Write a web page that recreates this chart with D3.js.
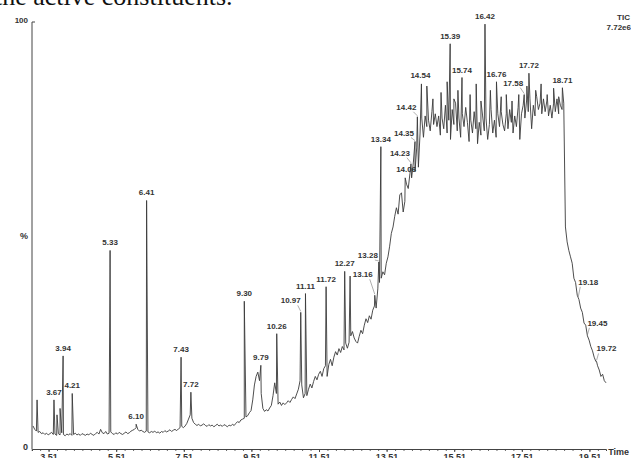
<!DOCTYPE html>
<html><head><meta charset="utf-8">
<script src="https://cdn.jsdelivr.net/npm/d3@7"></script>
<style>
html,body{margin:0;padding:0;background:#fff;overflow:hidden}
svg{display:block}
</style></head><body>
<svg id="chart" width="631" height="458"></svg>
<script>
// Total ion chromatogram (TIC), relative abundance in % against retention time (min)
const ticStart = 3.05;
const ticStep = 0.05;
const ticValues = [
  // 3.05 - 4.50
  5.4, 4.6, 4.2, 3.9, 4.1, 3.6, 3.8, 3.4, 3.7, 3.3,
  3.6, 3.9, 3.4, 3.5, 3.2, 3.6, 3.3, 3.8, 3.4, 3.1,
  3.5, 3.3, 3.6, 3.2, 3.4, 3.7, 3.3, 3.5, 3.2, 3.6,
  // 4.55 - 6.00
  3.4, 3.2, 3.5, 3.3, 3.7, 3.4, 3.2, 3.6, 3.9, 3.5,
  4.6, 3.8, 3.6, 4.1, 3.5, 3.7, 4.0, 3.6, 3.4, 3.8,
  3.5, 3.9, 3.6, 3.4, 3.7, 4.0, 3.6, 3.8, 4.2, 4.4,
  // 6.05 - 7.50
  4.6, 5.0, 4.6, 4.2, 4.4, 4.1, 3.9, 4.2, 4.0, 3.8,
  4.1, 3.9, 4.2, 3.8, 4.0, 3.7, 4.1, 3.9, 4.3, 4.0,
  4.2, 4.5, 4.1, 4.4, 4.6, 4.3, 4.7, 5.0, 5.3, 5.0,
  // 7.55 - 9.00
  5.4, 6.0, 7.0, 8.0, 7.2, 6.2, 5.8, 5.5, 5.8, 5.4,
  5.6, 5.9, 5.5, 5.3, 5.7, 5.4, 5.6, 5.2, 5.5, 5.8,
  5.4, 5.6, 5.3, 5.7, 5.5, 5.2, 5.6, 5.4, 5.8, 5.5,
  // 9.05 - 10.50
  6.0, 6.4, 6.2, 6.8, 7.0, 7.2, 7.5, 7.8, 8.5, 9.0,
  11.5, 15.0, 17.0, 18.0, 16.0, 13.0, 9.5, 8.8, 9.2, 8.9,
  9.6, 10.2, 12.5, 15.5, 13.0, 10.5, 11.0, 10.2, 10.8, 10.4,
  // 10.55 - 12.00
  10.8, 11.3, 10.9, 11.6, 12.2, 11.8, 12.9, 14.0, 16.0, 15.0,
  12.0, 13.0, 12.5, 14.0, 15.2, 14.3, 15.8, 17.0, 16.2, 17.5,
  18.2, 17.0, 18.8, 19.5, 17.0, 19.8, 21.0, 19.5, 21.5, 22.8,
  // 12.05 - 13.50
  22.0, 23.5, 22.6, 24.0, 23.2, 24.8, 23.6, 25.0, 26.5, 27.5,
  26.0, 25.2, 24.8, 26.4, 27.8, 27.0, 29.0, 30.5, 29.6, 31.2,
  30.4, 32.5, 33.5, 33.0, 37.5, 39.0, 40.0, 41.5, 40.8, 43.5,
  // 13.55 - 15.00
  45.0, 47.5, 50.5, 52.0, 54.5, 56.5, 55.0, 59.5, 60.0, 55.5,
  58.0, 62.0, 61.0, 64.5, 63.5, 67.0, 65.0, 70.5, 66.0, 74.0,
  77.5, 73.0, 78.0, 75.5, 77.0, 74.5, 79.0, 76.0, 78.5, 75.5,
  // 15.05 - 16.80
  78.0, 73.5, 77.5, 75.0, 80.5, 74.0, 77.0, 72.5, 79.5, 76.0,
  81.0, 74.5, 77.5, 73.0, 78.5, 75.5, 80.0, 76.5, 72.0, 77.0,
  74.0, 79.0, 75.0, 71.5, 76.5, 73.5, 78.0, 74.5, 77.5, 72.5,
  76.0, 79.5, 74.0, 77.0, 73.0, 78.5,
  // 16.85 - 18.75
  75.5, 79.0, 76.0, 74.5, 78.5, 75.0, 79.5, 76.5, 74.0, 78.0,
  75.5, 80.0, 72.5, 78.5, 80.5, 77.5, 81.5, 79.0, 82.0, 75.0,
  80.5, 78.0, 82.5, 79.5, 81.0, 78.5, 82.0, 79.0, 81.5, 78.0,
  80.5, 77.5, 81.0, 79.0, 82.0, 78.5, 80.5, 79.5, 81.0,
  // 18.80 - 20.00
  52.0, 48.5, 46.5, 45.0, 43.5, 40.0, 39.0, 36.0, 35.0, 33.0,
  32.0, 29.5, 29.0, 26.5, 25.5, 24.0, 23.0, 21.5, 20.5, 19.5,
  18.5, 17.0, 17.5, 16.0, 15.5
];

// Labelled peaks: retention time and apex height (%)
const peakTimes = [3.67, 3.94, 4.21, 5.33, 6.10, 6.41, 7.43, 7.72, 9.30, 9.79,
  10.26, 10.97, 11.11, 11.72, 12.27, 13.16, 13.28, 13.34, 14.06, 14.23,
  14.35, 14.42, 14.54, 15.39, 15.74, 16.42, 16.76, 17.58, 17.72, 18.71,
  19.18, 19.45, 19.72];
const peakHeights = [11.5, 21.8, 13.0, 46.5, 5.8, 58.2, 21.5, 13.3, 34.6, 19.6,
  27.0, 32.0, 36.4, 38.0, 41.6, 36.0, 43.8, 70.8, 63.5, 66.8,
  72.0, 77.8, 85.5, 94.9, 87.0, 99.5, 86.0, 83.0, 88.0, 84.6,
  35.4, 26.5, 20.5];
const peakLabels = peakTimes.map(t => t.toFixed(2));

// Unlabelled spikes
const minorPeakTimes = [3.17, 3.76, 3.85, 12.43, 14.70, 14.88, 15.12, 15.30, 15.50, 15.62,
  15.98, 16.16, 16.30, 16.58, 16.90, 17.05, 17.22, 17.42, 17.66, 17.92,
  18.08, 18.26, 18.45, 18.60];
const minorPeakHeights = [11.5, 8.0, 9.5, 40.5, 85.0, 82.0, 83.5, 86.0, 82.0, 84.0,
  83.0, 85.5, 81.5, 84.0, 82.5, 83.0, 81.5, 83.0, 85.0, 84.0,
  85.5, 83.0, 84.5, 82.5];

const xTickValues = [3.51, 5.51, 7.51, 9.51, 11.51, 13.51, 15.51, 17.51, 19.51];

// Label placement for peaks whose label sits off the apex (leader line drawn)
const labelShift = {
  "10.97": [-10, -9], "13.16": [-12, -18], "13.28": [-11, -4],
  "14.06": [1, -6], "14.23": [-11, -8], "14.35": [-11, -6], "14.42": [-11, -7],
  "14.54": [-1, -6], "17.58": [-11, -9],
  "19.18": [10, -13], "19.45": [10, -10], "19.72": [10, -10]
};

const svg = d3.select("#chart");
const plotLeft = 32, plotRight = 606, plotTop = 22, plotBottom = 449;

const x = d3.scaleLinear().domain([3.02, 20.0]).range([plotLeft, plotRight]);
const y = d3.scaleLinear().domain([0, 100]).range([plotBottom, plotTop]);

// Fragment of running text above the figure
svg.append("text")
  .attr("x", -5).attr("y", 5)
  .attr("font-family", "Liberation Serif, Times New Roman, serif")
  .attr("font-size", 26).attr("fill", "#111")
  .text("the active constituents.");

// Series: base trace with peak apexes merged in
const series = ticValues.map((v, i) => ({t: ticStart + i * ticStep, v}))
  .concat(peakTimes.map((t, i) => ({t, v: peakHeights[i]})))
  .concat(minorPeakTimes.map((t, i) => ({t, v: minorPeakHeights[i]})))
  .sort((a, b) => a.t - b.t);

const line = d3.line().x(d => x(d.t)).y(d => y(d.v));
svg.append("path")
  .datum(series)
  .attr("d", line)
  .attr("fill", "none")
  .attr("stroke", "#3a3a3a")
  .attr("stroke-width", 0.9)
  .attr("stroke-linejoin", "round");

// Axes
const axisColor = "#444";
const xAxis = d3.axisBottom(x)
  .tickValues(d3.range(3.01, 20.0, 0.25))
  .tickSize(2)
  .tickFormat("");
const gx = svg.append("g").attr("transform", `translate(0,${plotBottom})`).call(xAxis);
gx.select(".domain").attr("stroke", axisColor);
gx.selectAll(".tick line").attr("stroke", axisColor).attr("stroke-width", 0.8);

const gx2 = svg.append("g").attr("transform", `translate(0,${plotBottom})`)
  .call(d3.axisBottom(x).tickValues(xTickValues).tickSize(3).tickFormat(d3.format(".2f")));
gx2.select(".domain").remove();
gx2.selectAll(".tick line").attr("stroke", axisColor);
gx2.selectAll(".tick text")
  .attr("font-family", "Liberation Sans, Arial, sans-serif")
  .attr("font-size", 9).attr("font-weight", "bold").attr("fill", "#333")
  .attr("dy", "0.55em");

svg.append("line")
  .attr("x1", plotLeft).attr("x2", plotLeft).attr("y1", plotTop).attr("y2", plotBottom)
  .attr("stroke", axisColor).attr("stroke-width", 1);
svg.append("line")
  .attr("x1", plotLeft).attr("x2", plotLeft + 3).attr("y1", plotTop).attr("y2", plotTop)
  .attr("stroke", axisColor).attr("stroke-width", 1);

const small = sel => sel
  .attr("font-family", "Liberation Sans, Arial, sans-serif")
  .attr("font-weight", "bold").attr("fill", "#333");

svg.append("text").call(small).attr("font-size", 8)
  .attr("x", plotLeft - 4).attr("y", y(100) + 1).attr("text-anchor", "end").text("100");
svg.append("text").call(small).attr("font-size", 9)
  .attr("x", plotLeft - 4).attr("y", y(50) + 3).attr("text-anchor", "end").text("%");
svg.append("text").call(small).attr("font-size", 9)
  .attr("x", plotLeft - 4).attr("y", y(0) + 1).attr("text-anchor", "end").text("0");
svg.append("text").call(small).attr("font-size", 9)
  .attr("x", 629).attr("y", plotBottom + 6).attr("text-anchor", "end").text("Time");
svg.append("text").call(small).attr("font-size", 8)
  .attr("x", 630).attr("y", 20).attr("text-anchor", "end").text("TIC");
svg.append("text").call(small).attr("font-size", 8)
  .attr("x", 631).attr("y", 30).attr("text-anchor", "end").text("7.72e6");

// Peak labels
const labels = svg.append("g");
peakTimes.forEach((t, i) => {
  const ax = x(t), ay = y(peakHeights[i]);
  const lab = peakLabels[i];
  const s = labelShift[lab] || [0, -5];
  const lx = ax + s[0], ly = ay + s[1];
  labels.append("text").call(small)
    .attr("font-size", 8)
    .attr("x", lx).attr("y", ly)
    .attr("text-anchor", "middle")
    .text(lab);
  if (labelShift[lab] && Math.abs(s[0]) > 3) {
    const sx = s[0] < 0 ? lx + 7 : lx - 8;
    labels.append("line")
      .attr("x1", sx).attr("y1", ly + 2)
      .attr("x2", ax).attr("y2", ay - 1)
      .attr("stroke", "#777").attr("stroke-width", 0.6);
  }
});
</script>
</body></html>
